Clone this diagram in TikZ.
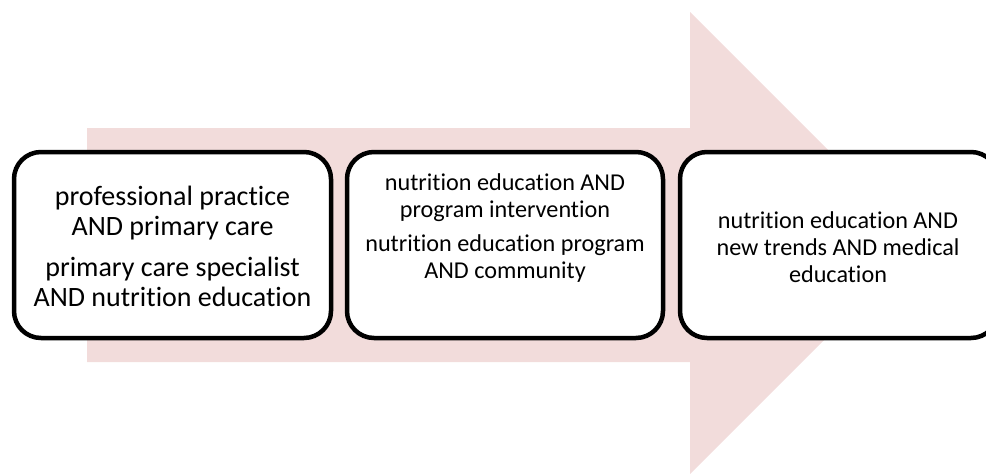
\documentclass[tikz,border=0pt]{standalone}
\usepackage{fontspec}
\setmainfont{Carlito}[Ligatures={NoCommon}]
\definecolor{arrowpink}{HTML}{F2DCDB}
\tikzset{
  stagebox/.style={draw=black, line width=4.5pt, rounded corners=27pt, fill=white},
  bigtext/.style={align=center, font=\fontsize{28}{30}\selectfont},
  smalltext/.style={align=center, font=\fontsize{24.2}{26.8}\selectfont},
}
\begin{document}
\begin{tikzpicture}[x=1pt,y=-1pt]
\useasboundingbox (0,0) rectangle (986,474);
\clip (0,0) rectangle (986,474);
\fill[arrowpink] (87,128) -- (690,128) -- (690,12) -- (921,243) -- (690,474) -- (690,362) -- (87,362) -- cycle;
\draw[stagebox] (14,152) rectangle (331,338);
\draw[stagebox] (347,152) rectangle (663,338);
\draw[stagebox] (680,152) rectangle (998,338);
\node[bigtext] (t1) at (172.5,246) {professional practice\\AND primary care\\[11pt]primary care specialist\\AND nutrition education};
\node[smalltext] (t2) at (505,228) {nutrition education AND\\program intervention\\[8pt]nutrition education program\\AND community};
\node[smalltext] (t3) at (838,247) {nutrition education AND\\new trends AND medical\\education};
\end{tikzpicture}
\end{document}
